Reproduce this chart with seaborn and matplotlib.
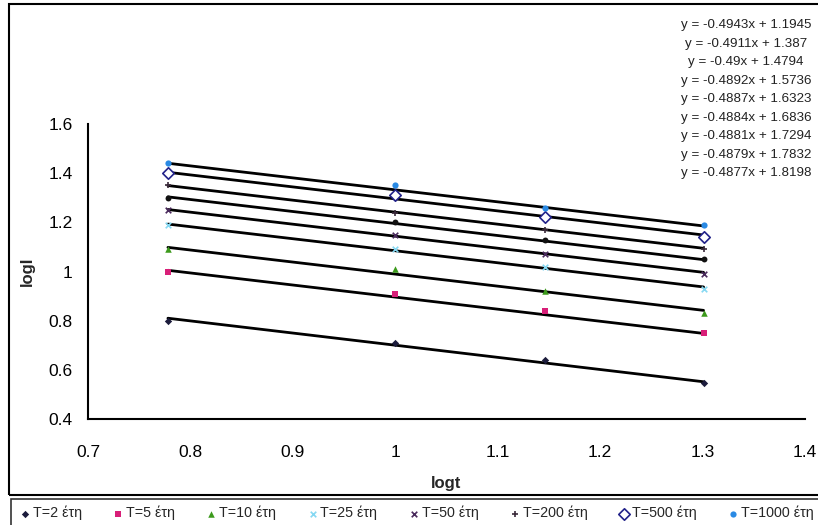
import numpy as np
import pandas as pd
import matplotlib
matplotlib.use('Agg')
import matplotlib.pyplot as plt
import seaborn as sns
from matplotlib.patches import Rectangle

# data
logt = [0.778, 1.0, 1.146, 1.301]
series = ['T=2 έτη', 'T=5 έτη', 'T=10 έτη', 'T=25 έτη', 'T=50 έτη',
          'T=100 έτη', 'T=200 έτη', 'T=500 έτη', 'T=1000 έτη']
logI = [
    [0.80, 0.71, 0.64, 0.545],
    [1.00, 0.91, 0.84, 0.75],
    [1.09, 1.01, 0.92, 0.83],
    [1.19, 1.09, 1.02, 0.93],
    [1.25, 1.15, 1.07, 0.99],
    [1.30, 1.20, 1.13, 1.05],
    [1.35, 1.24, 1.17, 1.09],
    [1.40, 1.31, 1.22, 1.14],
    [1.44, 1.35, 1.26, 1.19],
]
slopes = [-0.4943, -0.4911, -0.49, -0.4892, -0.4887, -0.4884, -0.4881, -0.4879, -0.4877]
intercepts = [1.1945, 1.387, 1.4794, 1.5736, 1.6323, 1.6836, 1.7294, 1.7832, 1.8198]
eq_labels = ['y = -0.4943x + 1.1945', 'y = -0.4911x + 1.387', 'y = -0.49x + 1.4794',
             'y = -0.4892x + 1.5736', 'y = -0.4887x + 1.6323', 'y = -0.4884x + 1.6836',
             'y = -0.4881x + 1.7294', 'y = -0.4879x + 1.7832', 'y = -0.4877x + 1.8198']
in_legend = [True, True, True, True, True, False, True, True, True]

# marker styles per series
markers = ['D', 's', '^', 'x', 'x', 'o', '+', 'D', 'o']
colors = ['#1c1c3c', '#d81f78', '#3c9a1c', '#86d8f2', '#4a2a5c', '#111111', '#3a2a3a', '#22228a', '#2a8ae4']
sizes = [14, 18, 22, 16, 16, 18, 22, 34, 20]

rows = []
for name, vals in zip(series, logI):
    for x, y in zip(logt, vals):
        rows.append({'series': name, 'logt': x, 'logI': y})
df = pd.DataFrame(rows)

sns.set_style('white')
plt.rcParams['font.family'] = ['Liberation Sans', 'DejaVu Sans']

fig = plt.figure(figsize=(8.18, 5.25), dpi=100)
ax = fig.add_axes([0.1076, 0.2019, 0.8765, 0.5619])

# trendlines
xl = np.array([min(logt), max(logt)])
for a, b in zip(slopes, intercepts):
    ax.plot(xl, a * xl + b, color='black', lw=2.0, zorder=2)

for i, name in enumerate(series):
    sub = df[df['series'] == name]
    if i == 7:
        kw = dict(facecolor='white', edgecolor=colors[i], linewidth=1.2)
    else:
        kw = dict(color=colors[i], linewidth=1.2 if markers[i] in 'x+' else 0)
    sns.scatterplot(data=sub, x='logt', y='logI', marker=markers[i], s=sizes[i],
                    ax=ax, zorder=3, label=name if in_legend[i] else None, **kw)

ax.set_xlim(0.7, 1.4)
ax.set_ylim(0.4, 1.6)
ax.set_xticks(np.arange(0.7, 1.41, 0.1))
ax.set_xticklabels(['0.7', '0.8', '0.9', '1', '1.1', '1.2', '1.3', '1.4'])
ax.set_yticks(np.arange(0.4, 1.61, 0.2))
ax.set_yticklabels(['0.4', '0.6', '0.8', '1', '1.2', '1.4', '1.6'])
ax.tick_params(axis='both', direction='out', length=5, width=1, labelsize=12.5, colors='black', pad=6)
ax.tick_params(axis='x', pad=14)
for s in ['top', 'right']:
    ax.spines[s].set_visible(False)
for s in ['left', 'bottom']:
    ax.spines[s].set_color('black')
    ax.spines[s].set_linewidth(1.5)
ax.set_xlabel('logt', fontsize=12, fontweight='bold', labelpad=11)
ax.set_ylabel('logI', fontsize=12, fontweight='bold', labelpad=10)

# equation labels, top right
for k, txt in enumerate(eq_labels):
    fig.text(0.912, 0.952 - k * 0.0352, txt, fontsize=9.6, ha='center', va='center', color='#222222')

ax.get_legend().remove()
h, l = ax.get_legend_handles_labels()
leg = fig.legend(h, l, loc='center', bbox_to_anchor=(0.013, -0.012, 0.99, 0.069), mode='expand',
                 ncol=8, fontsize=10.3, frameon=True, fancybox=False, handletextpad=0.05,
                 handlelength=1.0, borderaxespad=0.0, borderpad=0.5, columnspacing=0.8)
leg.get_frame().set_edgecolor('black')
leg.get_frame().set_linewidth(1.2)

# outer chart frame
fig.add_artist(Rectangle((0.011, 0.057), 1.2, 0.936, transform=fig.transFigure,
                         fill=False, edgecolor='black', linewidth=1.5))

fig.savefig('out.png', dpi=100)
